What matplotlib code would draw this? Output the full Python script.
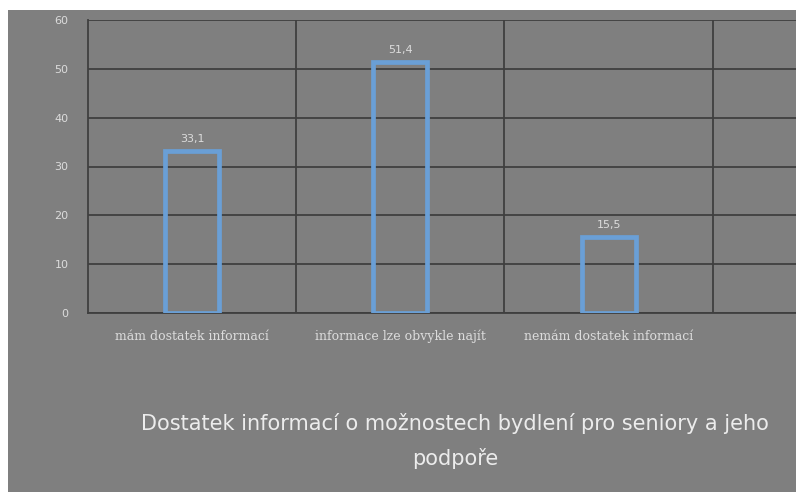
import matplotlib.pyplot as plt
from matplotlib.patches import Rectangle

categories = ["mám dostatek informací", "informace lze obvykle najít", "nemám dostatek informací"]
values = [33.1, 51.4, 15.5]
value_labels = ["33,1", "51,4", "15,5"]
title = "Dostatek informací o možnostech bydlení pro seniory a jeho\npodpoře"

bg = "#7f7f7f"
grid = "#3f3f3f"
txt = "#dcdcdc"
blue = "#6a9fd6"

fig = plt.figure(figsize=(7.96, 4.92), dpi=100)
fig.patch.set_facecolor("white")
fig.patches.append(Rectangle((8 / 796, 0), 1, (492 - 10) / 492, transform=fig.transFigure,
                             facecolor=bg, edgecolor="none", zorder=-10))

ax = fig.add_axes([88 / 796, 1 - 313 / 492, 1 - 88 / 796, (313 - 20) / 492])
ax.set_facecolor(bg)
ax.set_xlim(-0.5, 2.9)
ax.set_ylim(0, 60)

x = list(range(len(categories)))
ax.bar(x, values, width=0.26, facecolor="none", edgecolor=blue, linewidth=3.4, zorder=3)
for xi, v, lab in zip(x, values, value_labels):
    ax.text(xi, v + 1.5, lab, ha="center", va="bottom", fontsize=8, color=txt, zorder=4)

ax.set_yticks(range(0, 61, 10))
ax.set_yticklabels([str(t) for t in range(0, 61, 10)], fontsize=8, color=txt)
ax.set_xticks(x)
ax.set_xticklabels(categories, fontsize=9, color=txt, family="DejaVu Serif")
ax.tick_params(axis="y", length=0, pad=14)
ax.tick_params(axis="x", length=0, pad=12)

for y in range(0, 61, 10):
    ax.axhline(y, color=grid, linewidth=1.3, zorder=1)
for xv in [0.5, 1.5, 2.5]:
    ax.axvline(xv, color=grid, linewidth=1.3, zorder=1)
for side in ["top", "right"]:
    ax.spines[side].set_visible(False)
ax.spines["left"].set_color(grid)
ax.spines["left"].set_linewidth(1.3)
ax.spines["bottom"].set_color(grid)
ax.spines["bottom"].set_linewidth(1.3)

fig.text(455 / 796, 1 - 441 / 492, title, ha="center", va="center", fontsize=15,
         color="#ececec", linespacing=1.8)

fig.savefig("out.png", dpi=100)
